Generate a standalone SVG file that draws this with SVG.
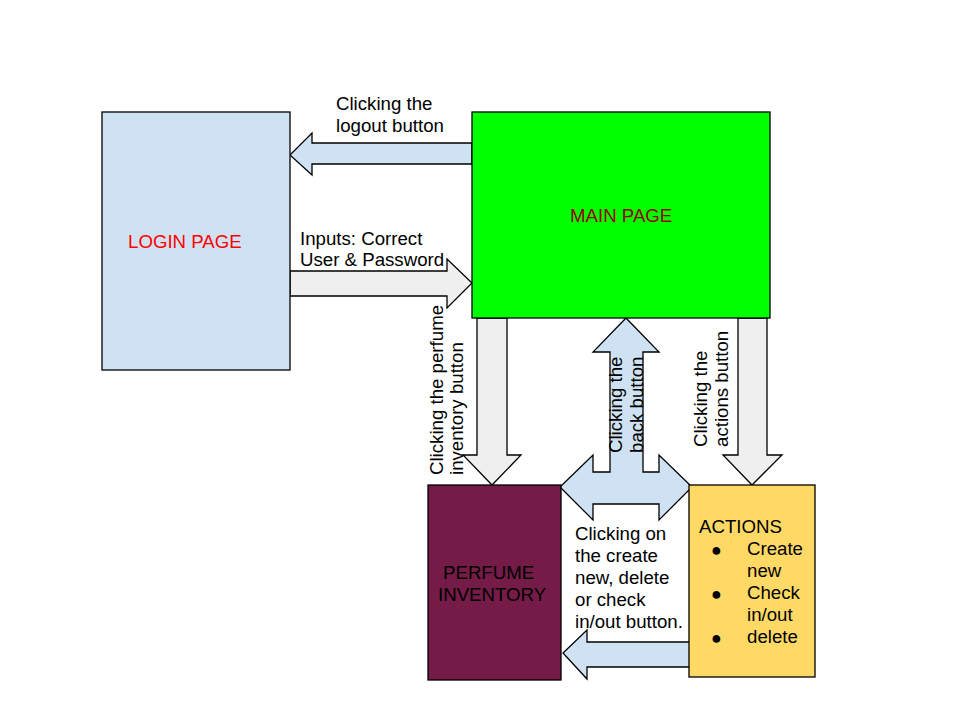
<svg xmlns="http://www.w3.org/2000/svg" width="960" height="720" viewBox="0 0 960 720">
<style>
  .box { stroke: #000; stroke-width: 1.3; }
  .arrow { stroke: #000; stroke-width: 1.3; stroke-linejoin: miter; }
  .grey { fill: #efefef; }
  .blue { fill: #cfe2f3; }
  text { font-family: "Liberation Sans", Arial, sans-serif; font-size: 18.67px; fill: #000; }
  .bullet { font-size: 18px; }
</style>
<rect x="0" y="0" width="960" height="720" fill="#fff"/>
<g id="connectors">
  <polygon class="arrow blue" points="472,143 312,143 312,133 290,155 312,175 312,164 472,164"/>
  <polygon class="arrow grey" points="290,271 447,271 447,259 472,283 447,308 447,296 290,296"/>
  <polygon class="arrow grey" points="477,318 507,318 507,455 521,455 492,485 463,455 477,455"/>
  <polygon class="arrow grey" points="738,318 767,318 767,455 782,455 752,485 723,455 738,455"/>
  <polygon class="arrow blue" points="626,318 659,352 643,352 643,472 659,472 659,455 692,487 659,520 659,504 593,504 593,520 560,487 593,455 593,472 610,472 610,352 593,352"/>
  <polygon class="arrow blue" points="690,642 587,642 587,630 563,653 587,679 587,667 690,667"/>
</g>
<g id="login">
  <rect class="box" x="102" y="112" width="188" height="258" fill="#cfe2f3"/>
  <text x="128" y="248" style="fill:#ff0000">LOGIN PAGE</text>
</g>
<g id="main">
  <rect class="box" x="472" y="112" width="298" height="206" fill="#00ff00"/>
  <text x="570" y="222" style="fill:#990000">MAIN PAGE</text>
</g>
<g id="perfume">
  <rect class="box" x="428" y="485" width="133" height="195" fill="#741b47"/>
  <text x="443" y="579">PERFUME</text>
  <text x="438" y="601">INVENTORY</text>
</g>
<g id="actions">
  <rect class="box" x="689" y="485" width="126" height="192" fill="#ffd966"/>
  <text x="699" y="533">ACTIONS</text>
  <text class="bullet" x="711" y="556">●</text>
  <text x="747" y="555">Create</text>
  <text x="747" y="577">new</text>
  <text class="bullet" x="711" y="600">●</text>
  <text x="747" y="599">Check</text>
  <text x="747" y="621">in/out</text>
  <text class="bullet" x="711" y="644">●</text>
  <text x="747" y="643">delete</text>
</g>
<g id="labels">
  <text x="336" y="110">Clicking the</text>
  <text x="336" y="132">logout button</text>
  <text x="300" y="245">Inputs: Correct</text>
  <text x="300" y="266">User &amp; Password</text>
  <text transform="translate(443,475) rotate(-90)">Clicking the perfume</text>
  <text transform="translate(463,475) rotate(-90)">inventory button</text>
  <text transform="translate(622,453) rotate(-90)">Clicking the</text>
  <text transform="translate(643,453) rotate(-90)">back button</text>
  <text transform="translate(707,447) rotate(-90)">Clicking the</text>
  <text transform="translate(728,447) rotate(-90)">actions button</text>
  <text x="575" y="540">Clicking on</text>
  <text x="575" y="562">the create</text>
  <text x="575" y="584">new, delete</text>
  <text x="575" y="606">or check</text>
  <text x="575" y="628">in/out button.</text>
</g>
</svg>
